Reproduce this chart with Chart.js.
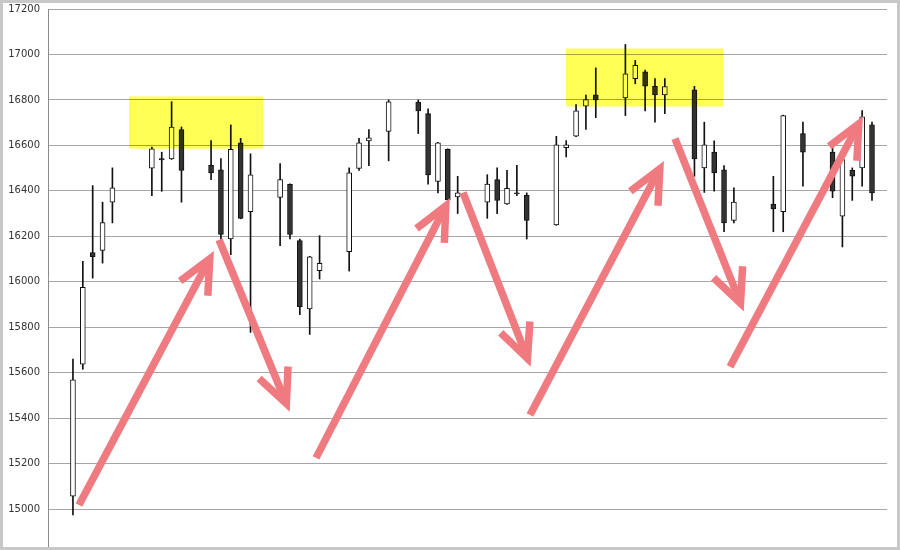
<!DOCTYPE html>
<html>
<head>
<meta charset="utf-8">
<script src="https://cdn.jsdelivr.net/npm/chart.js@4.4.1/dist/chart.umd.min.js"></script>
<style>
  html, body { margin: 0; padding: 0; background: #fff; }
  #frame { width: 900px; height: 550px; box-sizing: border-box; border: 3px solid #c8c8c8; background: #fff; }
  #frame canvas { display: block; }
</style>
</head>
<body>
<div id="frame"><canvas id="stockChart" width="894" height="544"></canvas></div>
<script>
/* -------------------------
   Data (trading day slot, OHLC)
   ------------------------- */
const days = [0, 1, 2, 3, 4, 8, 9, 10, 11, 14, 15, 16, 17, 18, 21, 22, 23, 24, 25, 28, 29, 30, 32,
  35, 36, 37, 38, 39, 42, 43, 44, 45, 46, 49, 50, 51, 52, 53, 56, 57, 58, 59, 60,
  63, 64, 65, 66, 67, 71, 72, 74, 77, 78, 79, 80, 81];
const opens = [15057, 15637, 16128, 16138, 16350, 16500, 16542, 16540, 16670,
  16512, 16492, 16188, 16611, 16308, 16371, 16429, 16181, 15880, 16049,
  16132, 16499, 16620, 16661, 16790, 16740, 16441, 16583, 16373,
  16350, 16449, 16342, 16391, 16380, 16250, 16590, 16640, 16772, 16822,
  16809, 16893, 16924, 16860, 16822, 16844, 16501, 16570, 16492, 16270,
  16342, 16308, 16652, 16570, 16288, 16490, 16501, 16690];
const highs = [15660, 16090, 16423, 16350, 16501, 16593, 16570, 16792, 16681,
  16621, 16542, 16690, 16631, 16563, 16520, 16431, 16188, 16112, 16203,
  16501, 16631, 16670, 16800, 16800, 16761, 16613, 16585, 16464,
  16471, 16501, 16490, 16512, 16391, 16640, 16621, 16780, 16821, 16941,
  17044, 16974, 16931, 16894, 16894, 16860, 16702, 16620, 16511, 16413,
  16464, 16733, 16702, 16611, 16560, 16501, 16753, 16702];
const lows = [14974, 15615, 16016, 16082, 16259, 16379, 16398, 16538, 16350,
  16449, 16188, 16119, 16277, 15777, 16159, 16188, 15855, 15768, 16012,
  16047, 16490, 16511, 16532, 16652, 16429, 16391, 16341, 16300,
  16279, 16300, 16340, 16379, 16188, 16248, 16549, 16638, 16670, 16722,
  16731, 16871, 16752, 16702, 16740, 16464, 16393, 16398, 16220, 16259,
  16220, 16220, 16420, 16370, 16153, 16358, 16420, 16358];
const closes = [15568, 15975, 16110, 16260, 16413, 16585, 16536, 16681, 16490,
  16479, 16208, 16583, 16279, 16470, 16449, 16208, 15890, 16110, 16081,
  16479, 16611, 16633, 16792, 16752, 16470, 16611, 16360, 16391,
  16430, 16358, 16411, 16387, 16270, 16602, 16602, 16752, 16802, 16800,
  16915, 16952, 16860, 16822, 16859, 16540, 16602, 16479, 16259, 16350,
  16320, 16731, 16570, 16398, 16537, 16464, 16726, 16391];
const yTicks = [15000, 15200, 15400, 15600, 15800, 16000, 16200, 16400, 16600, 16800, 17000, 17200];

// highlight boxes: [fromSlot, toSlot], [lowValue, highValue]
const boxSlots = [[5.68, 19.27], [49.98, 65.9]];
const boxValues = [[16586, 16815], [16771, 17026]];

// hand-drawn arrows: [slot, value] start -> tip
const arrowStarts = [[0.61, 15018], [14.81, 16185], [24.64, 15225], [39.54, 16392], [46.33, 15414], [61.03, 16630], [66.61, 15626]];
const arrowTips = [[14.2, 16128], [21.9, 15436], [38.12, 16361], [46.33, 15634], [59.82, 16524], [67.93, 15877], [79.99, 16722]];

/* -------------------------
   Overlay: yellow boxes + pink arrows
   ------------------------- */
const overlay = {
  id: 'overlay',
  afterDatasetsDraw(chart) {
    const { ctx, scales: { x, y } } = chart;
    ctx.save();
    ctx.globalCompositeOperation = 'multiply';
    ctx.fillStyle = '#ffff55';
    boxSlots.forEach((s, i) => {
      const x0 = x.getPixelForValue(s[0]), x1 = x.getPixelForValue(s[1]);
      const y0 = y.getPixelForValue(boxValues[i][1]), y1 = y.getPixelForValue(boxValues[i][0]);
      ctx.fillRect(x0, y0, x1 - x0, y1 - y0);
    });
    ctx.restore();

    ctx.save();
    ctx.strokeStyle = '#ef7a80';
    ctx.lineWidth = 7.5;
    ctx.lineCap = 'butt';
    ctx.lineJoin = 'miter';
    arrowStarts.forEach((s, i) => {
      const sx = x.getPixelForValue(s[0]), sy = y.getPixelForValue(s[1]);
      let tx = x.getPixelForValue(arrowTips[i][0]), ty = y.getPixelForValue(arrowTips[i][1]);
      const back = Math.atan2(sy - ty, sx - tx);
      // pull vertex back so the mitred point sits on the tip
      tx += Math.cos(back) * 7;
      ty += Math.sin(back) * 7;
      const len = 37, spread = 25 * Math.PI / 180;
      ctx.beginPath();
      ctx.moveTo(sx, sy);
      ctx.lineTo(tx, ty);
      ctx.stroke();
      ctx.beginPath();
      ctx.moveTo(tx + Math.cos(back + spread) * len, ty + Math.sin(back + spread) * len);
      ctx.lineTo(tx, ty);
      ctx.lineTo(tx + Math.cos(back - spread) * len, ty + Math.sin(back - spread) * len);
      ctx.stroke();
    });
    ctx.restore();
  }
};

/* -------------------------
   Candles = floating bars (body) + thin bars (wick)
   ------------------------- */
const bodyColors = days.map((d, i) => closes[i] >= opens[i] ? '#ffffff' : '#333333');

new Chart(document.getElementById('stockChart'), {
  type: 'bar',
  data: {
    datasets: [{
      label: 'body',
      data: days.map((d, i) => ({ x: d, y: [opens[i], closes[i]] })),
      backgroundColor: bodyColors,
      borderColor: '#111111',
      borderWidth: 1,
      borderSkipped: false,
      barThickness: 5,
      grouped: false
    }, {
      label: 'wick',
      data: days.map((d, i) => ({ x: d, y: [lows[i], highs[i]] })),
      backgroundColor: '#111111',
      borderWidth: 0,
      barThickness: 1,
      grouped: false
    }]
  },
  options: {
    responsive: false,
    animation: false,
    layout: { padding: { top: 6, right: 10, bottom: 0, left: 0 } },
    plugins: { legend: { display: false }, tooltip: { enabled: false } },
    scales: {
      x: { type: 'linear', min: -2.53, max: 82.52, offset: false, display: false },
      y: {
        min: 14833,
        max: 17200,
        afterBuildTicks: (scale) => { scale.ticks = yTicks.map(v => ({ value: v })); },
        afterFit: (scale) => { scale.width = 45; scale.paddingTop = 0; scale.paddingBottom = 0; },
        grid: { color: '#a6a6a6', lineWidth: 1, drawTicks: false },
        border: { color: '#8a8a8a', width: 1 },
        ticks: {
          padding: 8,
          color: '#333333',
          font: { family: 'DejaVu Sans', size: 10 },
          callback: (v) => String(v)
        }
      }
    }
  },
  plugins: [overlay]
});
</script>
</body>
</html>
